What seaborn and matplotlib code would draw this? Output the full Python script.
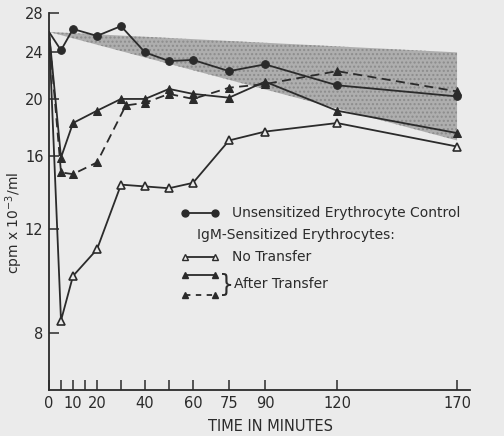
import matplotlib
matplotlib.use("Agg")
import matplotlib.pyplot as plt
from matplotlib.ticker import FixedLocator, NullFormatter, NullLocator
import seaborn as sns

# time points (minutes)
time_control = [0, 5, 10, 20, 30, 40, 50, 60, 75, 90, 120, 170]
control = [26.0, 24.2, 26.3, 25.6, 26.6, 24.0, 23.2, 23.3, 22.3, 22.9, 21.1, 20.2]

time_no_transfer = [0, 5, 10, 20, 30, 40, 50, 60, 75, 90, 120, 170]
no_transfer = [26.0, 8.4, 10.0, 11.1, 14.3, 14.2, 14.1, 14.4, 17.0, 17.6, 18.2, 16.6]

time_after_a = [0, 5, 10, 20, 30, 40, 50, 60, 75, 90, 120, 170]
after_a = [26.0, 15.9, 18.2, 19.1, 20.0, 20.0, 20.8, 20.4, 20.1, 21.4, 19.1, 17.5]

time_after_b = [0, 5, 10, 20, 32, 40, 50, 60, 75, 90, 120, 170]
after_b = [26.0, 15.0, 14.9, 15.6, 19.5, 19.7, 20.4, 20.0, 20.9, 21.2, 22.3, 20.6]

# control range (shaded band)
band_time = [0, 170]
band_high = [26.0, 24.0]
band_low = [26.0, 17.0]

y_ticks = [8, 12, 16, 20, 24, 28]
x_major = [0, 10, 20, 40, 60, 75, 90, 120, 170]
x_minor = [5, 15, 30, 50]

INK = "#2b2b2b"
PAPER = "#ebebeb"

sns.set_theme(style="ticks")
plt.rcParams.update({
    "font.family": ["DejaVu Sans"],
    "font.size": 10,
    "text.color": INK,
    "axes.edgecolor": INK,
    "axes.labelcolor": INK,
    "xtick.color": INK,
    "ytick.color": INK,
    "hatch.color": "#8c8c8c",
})

fig = plt.figure(figsize=(5.04, 4.36), dpi=100, facecolor=PAPER)
ax = fig.add_axes([49 / 504, 46 / 436, 421 / 504, 377 / 436])
ax.set_facecolor(PAPER)

ax.fill_between(band_time, band_low, band_high, facecolor="#aeaeae",
                edgecolor="#8c8c8c", hatch="....", linewidth=0, zorder=1)

common = dict(ax=ax, color=INK, linewidth=1.3, markersize=5.5, zorder=3)
sns.lineplot(x=time_control, y=control, marker="o", markeredgecolor=INK,
             markevery=list(range(1, len(control))), **common)
sns.lineplot(x=time_no_transfer, y=no_transfer, marker="^", markerfacecolor=PAPER,
             markeredgecolor=INK, markeredgewidth=1.2,
             markevery=list(range(1, len(no_transfer))), **common)
sns.lineplot(x=time_after_a, y=after_a, marker="^", markeredgecolor=INK,
             markevery=list(range(1, len(after_a))), **common)
sns.lineplot(x=time_after_b, y=after_b, marker="^", markeredgecolor=INK,
             linestyle=(0, (5, 3)), markevery=list(range(1, len(after_b))), **common)

ax.set_yscale("log")
ax.set_ylim(6.4, 28)
ax.set_xlim(0, 175.4)
ax.yaxis.set_major_locator(FixedLocator(y_ticks))
ax.yaxis.set_minor_locator(NullLocator())
ax.yaxis.set_minor_formatter(NullFormatter())
ax.set_yticklabels([str(t) for t in y_ticks])
ax.xaxis.set_major_locator(FixedLocator(x_major))
ax.xaxis.set_minor_locator(FixedLocator(x_minor))
ax.tick_params(axis="both", which="both", direction="in", length=7, width=1.1,
               labelsize=10.5, pad=4)
sns.despine(ax=ax)
for s in ("left", "bottom"):
    ax.spines[s].set_linewidth(1.3)

ax.set_xlabel("TIME IN MINUTES", fontsize=10.5)
ax.xaxis.set_label_coords(0.525, -0.077)
ax.set_ylabel(r"cpm x 10$^{-3}$/ml", fontsize=10)
ax.yaxis.set_label_coords(-0.058, 0.443)

# legend drawn by hand to keep the brace grouping
tr = ax.transAxes
def key(y, marker, face, ls="-"):
    ax.plot([0.323, 0.394], [y, y], transform=tr, color=INK, linewidth=1.3,
            linestyle=ls, marker=marker, markersize=5, markerfacecolor=face,
            markeredgecolor=INK, clip_on=False, zorder=4)

key(0.4695, "o", INK)
ax.text(0.435, 0.4695, "Unsensitized Erythrocyte Control", transform=tr,
        va="center", ha="left", fontsize=10)
ax.text(0.3515, 0.411, "IgM-Sensitized Erythrocytes:", transform=tr,
        va="center", ha="left", fontsize=10)
key(0.353, "^", PAPER)
ax.text(0.435, 0.353, "No Transfer", transform=tr, va="center", ha="left", fontsize=10)
key(0.305, "^", INK)
key(0.252, "^", INK, ls=(0, (3, 3)))
ax.text(0.403, 0.279, "}", transform=tr, va="center", ha="left", fontsize=17)
ax.text(0.44, 0.281, "After Transfer", transform=tr, va="center", ha="left", fontsize=10)

fig.savefig("out.png", dpi=100, facecolor=PAPER)
